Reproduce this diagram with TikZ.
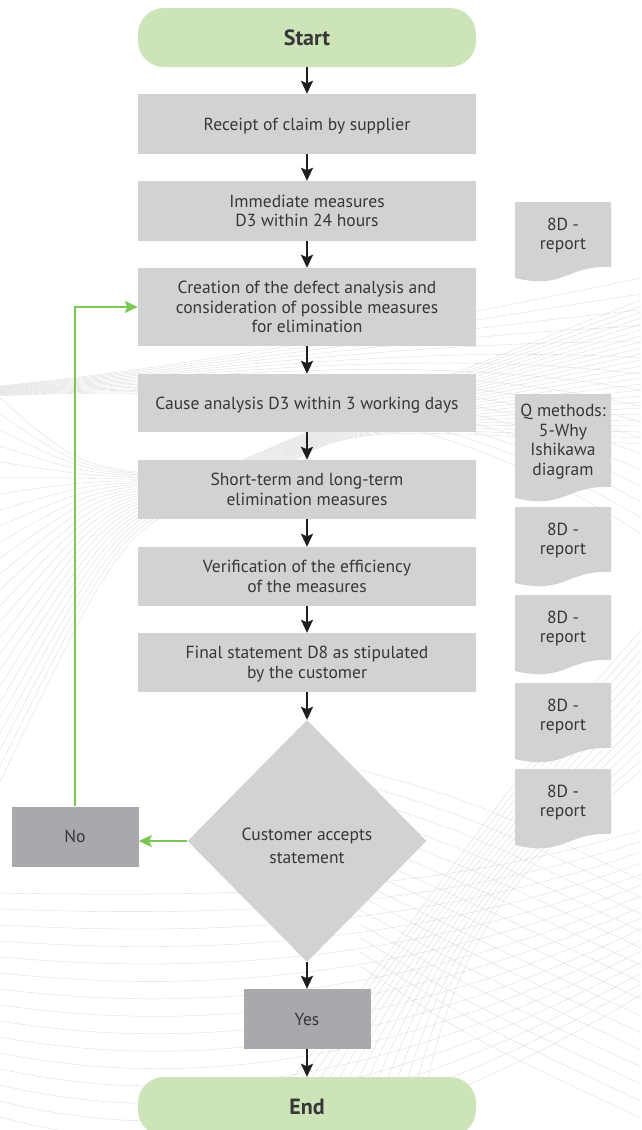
\documentclass[tikz,border=0pt]{standalone}
\usepackage{fontspec}
\setmainfont{PT Sans}
\usetikzlibrary{shapes.geometric,arrows.meta}
\definecolor{boxgray}{RGB}{209,210,212}
\definecolor{darkbox}{RGB}{167,169,172}
\definecolor{termgreen}{RGB}{205,228,184}
\definecolor{txt}{RGB}{55,55,55}
\definecolor{loopgreen}{RGB}{122,199,84}
\definecolor{bgline}{RGB}{218,218,218}
\newcommand\docsheet[4]{%
  \fill[boxgray] (515,#1) -- (611,#1) -- (611,{#1+#2-11})
    .. controls (566,{#1+#2-13}) and (565,{#1+#2+12}) .. (515,{#1+#2}) -- cycle;
  \node[doctext] (#3) at (563,{#1+#2/2-6}) {#4};}
\begin{document}
\begin{tikzpicture}[x=1pt,y=-1pt,
  bg/.style={draw=bgline,line width=0.35pt},
  proc/.style={fill=boxgray,minimum width=338pt,align=center,text=txt,
    font=\fontsize{17.5}{19.5}\selectfont,inner sep=0pt,text depth=0pt},
  term/.style={fill=termgreen,rounded corners=26pt,minimum width=338pt,
    minimum height=59pt,text=txt,font=\bfseries\fontsize{22}{24}\selectfont,text depth=0pt},
  ans/.style={fill=darkbox,minimum width=127pt,minimum height=60pt,text=txt,
    font=\fontsize{17.5}{19}\selectfont,text depth=0pt},
  decide/.style={diamond,fill=boxgray,minimum width=239pt,minimum height=242pt,
    inner sep=0pt,align=center,text=txt,font=\fontsize{17.5}{23.5}\selectfont,
    text height=45pt,text depth=0pt},
  doctext/.style={align=center,text=txt,font=\fontsize{17.5}{19.5}\selectfont,inner sep=0pt,text depth=0pt},
  flow/.style={draw=black!88,line width=2pt,-{Stealth[length=13pt,width=12pt,inset=2.5pt]}},
  back/.style={draw=loopgreen,line width=1.7pt,-{Stealth[length=13pt,width=12pt,inset=2.5pt]}},
]
\useasboundingbox (0,0) rectangle (641,1130);
\clip (0,0) rectangle (641,1130);
% background ribbon lines
\foreach \i in {0,...,16}
  \draw[bg] (0,{386+0.6*\i}) .. controls (200,{366+1.4*\i}) and (420,{324+4*\i}) .. (641,{278+16*\i});
\foreach \i in {0,...,24}
  \draw[bg] (0,{398+16*\i}) .. controls ({80+2*\i},{468+2*\i}) .. ({200+2*\i},{478+0.6*\i})
    .. controls (340,{418+0.3*\i}) .. (641,{300+6*\i});
\foreach \i in {0,...,15}
  \draw[bg] (0,{893+16*\i}) .. controls (220,{897+20*\i}) and (430,{895+15*\i}) .. (641,{830+11*\i});
\foreach \i in {0,...,14}
  \draw[bg] (360,{770+14*\i}) .. controls (470,{800+17*\i}) .. (641,{880+17*\i});
\foreach \i in {0,...,14}
  \draw[bg] ({250+12*\i},1130) .. controls ({400+4*\i},{950-4*\i}) and ({490+5*\i},{800+3*\i}) .. (641,{630+10*\i});
% flow
\node[term] (start) at (307,37.5) {Start};
\node[proc,minimum height=60pt] (b1) at (307,124) {Receipt of claim by supplier};
\node[proc,minimum height=60pt] (b2) at (307,211) {Immediate measures\\D3 within 24 hours};
\node[proc,minimum height=78pt] (b3) at (307,307) {Creation of the defect analysis and\\consideration of possible measures\\for elimination};
\node[proc,minimum height=58pt] (b4) at (307,403) {Cause analysis D3 within 3 working days};
\node[proc,minimum height=59pt] (b5) at (307,489.5) {Short-term and long-term\\elimination measures};
\node[proc,minimum height=59pt] (b6) at (307,576.5) {Verification of the efficiency\\of the measures};
\node[proc,minimum height=59pt] (b7) at (307,662.5) {Final statement D8 as stipulated\\by the customer};
\node[decide] (d) at (307,841) {Customer accepts\\statement};
\node[ans] (no) at (75,836.5) {No};
\node[ans] (yes) at (307,1019) {Yes};
\node[term] (end) at (307,1106.5) {End};
% documents
\docsheet{202}{76}{r1}{8D -\\report}
\docsheet{394}{104}{q}{Q methods:\\5-Why\\Ishikawa\\diagram}
\docsheet{507}{76}{r2}{8D -\\report}
\docsheet{595}{76}{r3}{8D -\\report}
\docsheet{683}{76}{r4}{8D -\\report}
\docsheet{769}{76}{r5}{8D -\\report}
% connectors
\draw[flow] (start) -- (b1);
\draw[flow] (b1) -- (b2);
\draw[flow] (b2) -- (b3);
\draw[flow] (b3) -- (b4);
\draw[flow] (b4) -- (b5);
\draw[flow] (b5) -- (b6);
\draw[flow] (b6) -- (b7);
\draw[flow] (b7) -- (d);
\draw[flow] (d) -- (yes);
\draw[flow] (yes) -- (end);
\draw[back] (d.west) -- (d.west -| no.east);
\draw[back] (no.north) |- (b3.west);
\end{tikzpicture}
\end{document}
